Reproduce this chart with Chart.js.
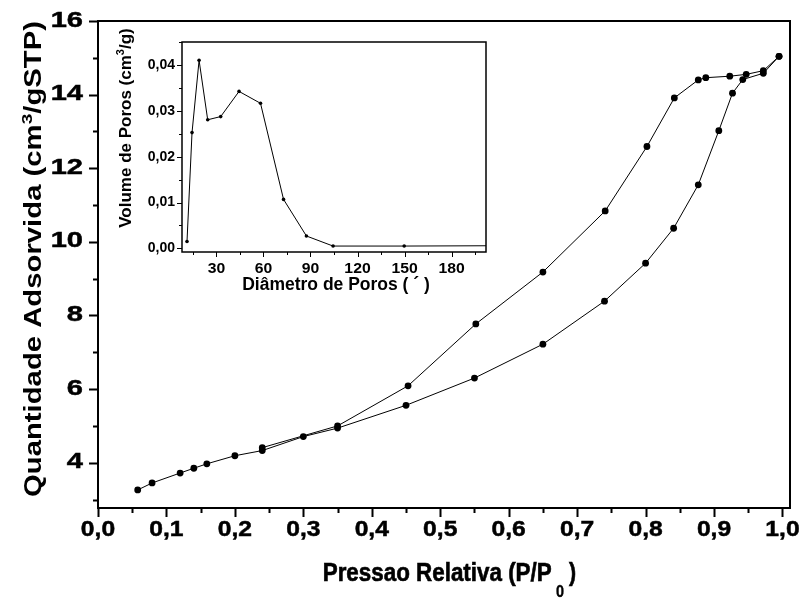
<!DOCTYPE html>
<html><head><meta charset="utf-8">
<script src="https://cdn.jsdelivr.net/npm/chart.js@4/dist/chart.umd.min.js"></script>
<style>
html,body{margin:0;padding:0;background:#fff;}
#wrap{position:relative;width:807px;height:600px;background:#fff;}
canvas{position:absolute;left:0;top:0;}
</style></head><body>
<div id="wrap">
<canvas id="main" width="807" height="600"></canvas>
<canvas id="inset" width="807" height="600"></canvas>
</div>
<script>
// ---- Main isotherm (relative pressure vs adsorbed quantity) ----
const adsP = [0.058,0.079,0.120,0.140,0.159,0.200,0.240,0.300,0.350,0.450,0.550,0.650,0.740,0.800,0.841,0.877,0.907,0.927,0.942,0.972,0.995];
const adsV = [3.26,3.45,3.72,3.85,3.97,4.19,4.33,4.71,4.94,5.56,6.30,7.22,8.39,9.42,10.37,11.55,13.02,14.04,14.41,14.58,15.04];
const desP = [0.995,0.972,0.947,0.923,0.888,0.877,0.842,0.802,0.741,0.650,0.552,0.453,0.350,0.240];
const desV = [15.04,14.65,14.55,14.50,14.46,14.40,13.91,12.59,10.84,9.18,7.77,6.09,5.00,4.41];
const mainXTicks = [0,0.1,0.2,0.3,0.4,0.5,0.6,0.7,0.8,0.9,1.0];
const mainXMinor = [0.05,0.15,0.25,0.35,0.45,0.55,0.65,0.75,0.85,0.95];
const mainYTicks = [4,6,8,10,12,14,16];
const mainYMinor = [3,5,7,9,11,13,15];

// ---- Inset (pore size distribution) ----
const poreD = [11.2,14.4,18.9,24.4,32.7,44.4,58.1,72.8,87.4,104.4,149.8,230];
const poreV = [0.0015,0.0253,0.0411,0.0281,0.0288,0.0343,0.0317,0.0107,0.0027,0.0005,0.0005,0.0006];
const insetXTicks = [30,60,90,120,150,180];
const insetXMinor = [15,45,75,105,135,165,195];
const insetYTicks = [0,0.01,0.02,0.03,0.04];
const insetYMinor = [0.005,0.015,0.025,0.035,0.045];

const FONT = "'Liberation Sans', Arial, sans-serif";

function drawRich(ctx, segs, x, y, o) {
  o = o || {};
  ctx.save();
  ctx.translate(x, y);
  if (o.rotate) ctx.rotate(o.rotate);
  const w = segs.map(s => { ctx.font = 'bold ' + s.s + 'px ' + FONT; return ctx.measureText(s.t).width; });
  const total = w.reduce((a, b) => a + b, 0);
  let sx = 1;
  if (o.fitFirst) sx = o.fitFirst / w[0];
  if (o.fitTotal) sx = o.fitTotal / total;
  ctx.scale(sx, 1);
  let cx = o.align === 'left' ? 0 : -total / 2;
  ctx.fillStyle = '#000';
  ctx.strokeStyle = '#000';
  ctx.lineWidth = o.stroke || 0;
  ctx.textAlign = 'left';
  ctx.textBaseline = 'alphabetic';
  segs.forEach((s, i) => {
    ctx.font = 'bold ' + s.s + 'px ' + FONT;
    ctx.fillText(s.t, cx, s.dy || 0);
    if (o.stroke) ctx.strokeText(s.t, cx, s.dy || 0);
    cx += w[i];
  });
  ctx.restore();
}

function drawLabel(ctx, text, x, y, size, sx, align, baseline, stroke) {
  ctx.save();
  ctx.font = 'bold ' + size + 'px ' + FONT;
  ctx.fillStyle = '#000';
  ctx.strokeStyle = '#000';
  ctx.textAlign = align;
  ctx.textBaseline = baseline;
  ctx.translate(x, y);
  ctx.scale(sx, 1);
  ctx.fillText(text, 0, 0);
  if (stroke) { ctx.lineWidth = stroke; ctx.strokeText(text, 0, 0); }
  ctx.restore();
}

function framePlugin(c) {
  return {
    id: 'frame',
    afterDraw(chart) {
      const ctx = chart.ctx, a = chart.chartArea, xs = chart.scales.x, ys = chart.scales.y;
      ctx.save();
      ctx.strokeStyle = '#000';
      ctx.lineWidth = c.tickW;
      ctx.beginPath();
      c.xMajor.forEach(v => { const p = Math.round(xs.getPixelForValue(v)) + 0.5; ctx.moveTo(p, a.bottom); ctx.lineTo(p, a.bottom + c.maj); });
      c.xMinor.forEach(v => { const p = Math.round(xs.getPixelForValue(v)) + 0.5; ctx.moveTo(p, a.bottom); ctx.lineTo(p, a.bottom + c.min); });
      c.yMajor.forEach(v => { const p = Math.round(ys.getPixelForValue(v)) + 0.5; ctx.moveTo(a.left, p); ctx.lineTo(a.left - c.maj, p); });
      c.yMinor.forEach(v => { const p = Math.round(ys.getPixelForValue(v)) + 0.5; ctx.moveTo(a.left, p); ctx.lineTo(a.left - c.min, p); });
      ctx.stroke();
      ctx.lineWidth = c.boxW;
      ctx.strokeRect(a.left, a.top, a.right - a.left, a.bottom - a.top);
      ctx.restore();
      c.xMajor.forEach(v => drawLabel(ctx, c.xFmt(v), xs.getPixelForValue(v), a.bottom + c.xDy, c.xSize, c.xSx, 'center', 'alphabetic', c.stroke));
      c.yMajor.forEach(v => drawLabel(ctx, c.yFmt(v), a.left - c.yDx, ys.getPixelForValue(v) + c.yDy, c.ySize, c.ySx, 'right', 'middle', c.stroke));
      if (c.titles) c.titles(ctx);
    }
  };
}

function pts(xa, ya) { return xa.map((v, i) => ({ x: v, y: ya[i] })); }
function zeroPad(s) { s.paddingTop = 0; s.paddingBottom = 0; s.paddingLeft = 0; s.paddingRight = 0; }

Chart.defaults.font.family = FONT;

new Chart(document.getElementById('main'), {
  type: 'scatter',
  data: { datasets: [
    { data: pts(adsP, adsV), showLine: true, borderColor: '#000', borderWidth: 1, pointRadius: 3.4, pointBackgroundColor: '#000', pointBorderWidth: 0 },
    { data: pts(desP, desV), showLine: true, borderColor: '#000', borderWidth: 1, pointRadius: 3.4, pointBackgroundColor: '#000', pointBorderWidth: 0 }
  ]},
  options: {
    responsive: false, animation: false, devicePixelRatio: 1,
    plugins: { legend: { display: false }, tooltip: { enabled: false } },
    layout: { padding: { left: 0, top: 21, right: 17, bottom: 0 } },
    scales: {
      x: { type: 'linear', min: 0, max: 1.011,
        afterFit: s => { s.height = 92; zeroPad(s); },
        grid: { display: false }, border: { display: false }, ticks: { display: false } },
      y: { type: 'linear', min: 2.77, max: 16,
        afterFit: s => { s.width = 98; zeroPad(s); },
        grid: { display: false }, border: { display: false }, ticks: { display: false } }
    }
  },
  plugins: [framePlugin({ xMajor: mainXTicks, xMinor: mainXMinor, yMajor: mainYTicks, yMinor: mainYMinor, maj: 9, min: 5, tickW: 2, boxW: 2, stroke: 0.5,
    xFmt: v => v.toFixed(1).replace('.', ','), xSize: 22, xSx: 1.12, xDy: 27.5,
    yFmt: v => String(v), ySize: 22, ySx: 1.32, yDx: 15, yDy: -0.5,
    titles: ctx => {
      drawRich(ctx, [{ t: 'Quantidade Adsorvida (cm', s: 23 }, { t: '3', s: 15, dy: -9 }, { t: '/gSTP)', s: 23 }], 41, 259, { rotate: -Math.PI / 2, fitTotal: 476 });
      drawRich(ctx, [{ t: 'Pressao Relativa (P/P', s: 25 }], 322.7, 580.7, { align: 'left', fitFirst: 229, stroke: 0.6 });
      drawLabel(ctx, '0', 556, 597, 17, 0.85, 'left', 'alphabetic', 0.4);
      drawLabel(ctx, ')', 569, 581, 25, 0.85, 'left', 'alphabetic', 0.6);
    } })]
});

new Chart(document.getElementById('inset'), {
  type: 'scatter',
  data: { datasets: [
    { data: pts(poreD, poreV), showLine: true, borderColor: '#000', borderWidth: 1, pointRadius: poreD.map((d, i) => i === poreD.length - 1 ? 0 : 1.8), pointBackgroundColor: '#000', pointBorderWidth: 0 }
  ]},
  options: {
    responsive: false, animation: false, devicePixelRatio: 1,
    plugins: { legend: { display: false }, tooltip: { enabled: false } },
    layout: { padding: { left: 0, top: 42, right: 321, bottom: 0 } },
    scales: {
      x: { type: 'linear', min: 8, max: 202,
        afterFit: s => { s.height = 348; zeroPad(s); },
        grid: { display: false }, border: { display: false }, ticks: { display: false } },
      y: { type: 'linear', min: -0.0008, max: 0.0451,
        afterFit: s => { s.width = 182; zeroPad(s); },
        grid: { display: false }, border: { display: false }, ticks: { display: false } }
    }
  },
  plugins: [framePlugin({ xMajor: insetXTicks, xMinor: insetXMinor, yMajor: insetYTicks, yMinor: insetYMinor, maj: 5, min: 3, tickW: 1, boxW: 1.5, stroke: 0,
    xFmt: v => String(v), xSize: 15, xSx: 1.05, xDy: 20.5,
    yFmt: v => v.toFixed(2).replace('.', ','), ySize: 14, ySx: 1.0, yDx: 7, yDy: 0,
    titles: ctx => {
      drawRich(ctx, [{ t: 'Volume de Poros (cm', s: 17 }, { t: '3', s: 11, dy: -7 }, { t: '/g)', s: 17 }], 131, 128, { rotate: -Math.PI / 2 });
      drawRich(ctx, [{ t: 'Diâmetro de Poros ( ´ )', s: 17.5 }], 336, 290, {});
    } })]
});
</script>
</body></html>
